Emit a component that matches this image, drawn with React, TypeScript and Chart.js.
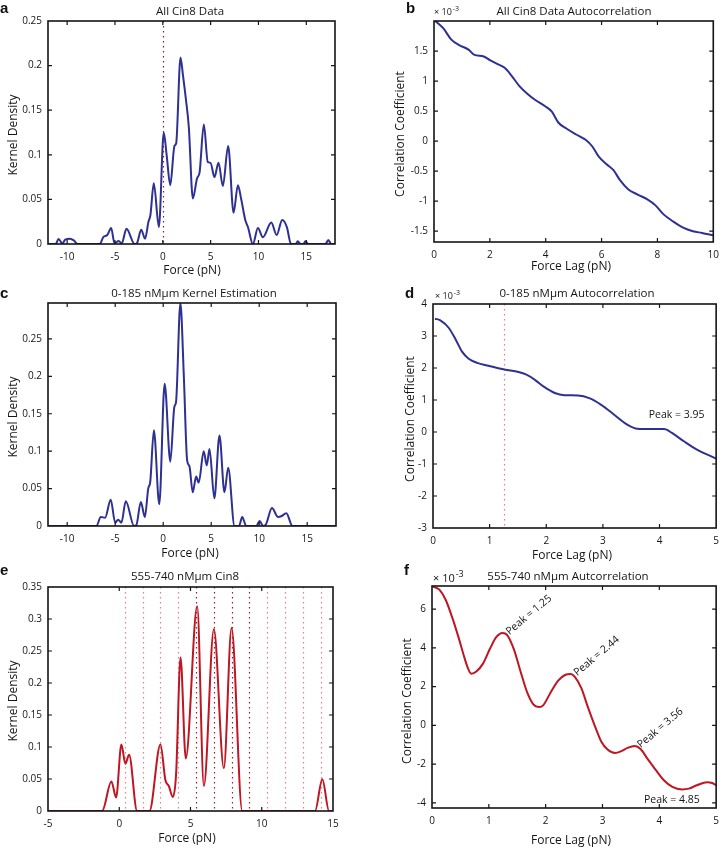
import React, { useEffect, useRef } from "react";
import { Chart, registerables } from "chart.js";
Chart.register(...registerables);

const W = 726;
const H = 848;
const FONT = "'Open Sans', 'Noto Sans', sans-serif";
const BLUE = "#2e3192";
const RED = "#be1622";
const INK = "#151515";

// ---------- Panel a: All Cin8 Data (kernel density) ----------
const aForce = [-12, -11.2, -10.9, -10.5, -10.2, -9.7, -9.3, -8.9, -6.6, -6.2, -5.8, -5.4, -5.05, -4.6, -4.3, -3.8, -2.95, -2.7, -2.26, -1.85, -1.5, -1.3, -0.94, -0.41, 0.1, 0.4, 0.78, 1.22, 1.4, 1.85, 2.1, 2.44, 2.72, 3.14, 3.59, 3.84, 4.29, 4.7, 4.99, 5.4, 5.82, 6.28, 6.83, 7.4, 7.85, 8.2, 8.62, 8.9, 9.42, 9.94, 10.46, 11.34, 11.9, 12.48, 12.97, 13.4, 13.9, 14.1, 14.4, 14.7, 14.9, 15.2, 17.0, 17.3, 17.6, 18];
const aDensity = [0, 0, 0.0055, 0.0005, 0.005, 0.006, 0.004, 0, 0, 0.008, 0.01, 0.018, 0.001, 0.0035, 0.0005, 0.017, 0, 0.001, 0.016, 0.006, 0.025, 0.032, 0.068, 0.019, 0.125, 0.1, 0.066, 0.11, 0.113, 0.209, 0.19, 0.16, 0.131, 0.051, 0.074, 0.08, 0.134, 0.092, 0.091, 0.075, 0.091, 0.065, 0.11, 0.035, 0.066, 0.05, 0.027, 0.019, 0, 0.018, 0.0075, 0.024, 0.01, 0.027, 0.019, 0, 0, 0.003, 0, 0, 0.003, 0, 0, 0.0045, 0, 0];
const aXTicks = [-10, -5, 0, 5, 10, 15];
const aYTicks = [0, 0.05, 0.1, 0.15, 0.2, 0.25];

// ---------- Panel b: All Cin8 Data Autocorrelation (x10^-3) ----------
const bLag = [0, 0.33, 0.62, 0.9, 1.25, 1.43, 1.78, 2.0, 2.24, 2.53, 2.76, 3.05, 3.34, 3.64, 3.98, 4.22, 4.45, 4.74, 5.09, 5.44, 5.67, 5.9, 6.19, 6.42, 6.66, 6.95, 7.29, 7.64, 7.93, 8.22, 8.57, 8.92, 9.27, 9.6, 10];
const bCorr = [2.02, 1.88, 1.69, 1.6, 1.52, 1.44, 1.41, 1.35, 1.29, 1.22, 1.1, 0.92, 0.79, 0.68, 0.58, 0.49, 0.31, 0.21, 0.11, 0.017, -0.09, -0.26, -0.39, -0.48, -0.65, -0.8, -0.89, -0.97, -1.07, -1.22, -1.34, -1.44, -1.5, -1.53, -1.57];
const bXTicks = [0, 2, 4, 6, 8, 10];
const bYTicks = [-1.5, -1, -0.5, 0, 0.5, 1, 1.5];

// ---------- Panel c: 0-185 nMµm Kernel Estimation ----------
const cForce = [-12, -6.96, -6.5, -6.05, -5.47, -5.0, -4.7, -4.35, -3.9, -3.03, -2.8, -2.33, -1.91, -1.56, -1.35, -0.97, -0.41, 0.15, 0.74, 1.16, 1.34, 1.79, 2.15, 2.49, 2.73, 3.08, 3.43, 3.7, 4.22, 4.54, 4.82, 5.33, 5.86, 6.38, 6.77, 7.43, 7.9, 8.23, 8.65, 9.7, 10.05, 10.4, 10.7, 11.33, 11.96, 12.3, 12.83, 13.46, 18];
const cDensity = [0, 0, 0.012, 0.011, 0.035, 0.0045, 0.0085, 0.0045, 0.033, 0, 0.001, 0.032, 0.012, 0.05, 0.059, 0.128, 0.029, 0.19, 0.086, 0.159, 0.166, 0.298, 0.2, 0.088, 0.08, 0.045, 0.066, 0.058, 0.1, 0.081, 0.103, 0.037, 0.121, 0.045, 0.078, 0, 0, 0.012, 0, 0, 0.0067, 0, 0.002, 0.024, 0.012, 0.013, 0.017, 0, 0];
const cXTicks = [-10, -5, 0, 5, 10, 15];
const cYTicks = [0, 0.05, 0.1, 0.15, 0.2, 0.25];

// ---------- Panel d: 0-185 nMµm Autocorrelation (x10^-3) ----------
const dLag = [0.035, 0.13, 0.28, 0.4, 0.51, 0.63, 0.78, 0.98, 1.26, 1.51, 1.65, 1.8, 1.97, 2.15, 2.32, 2.56, 2.76, 2.97, 3.2, 3.43, 3.61, 3.84, 4.08, 4.22, 4.43, 4.66, 5.0];
const dCorr = [3.54, 3.49, 3.25, 2.89, 2.52, 2.29, 2.16, 2.07, 1.95, 1.875, 1.79, 1.63, 1.4, 1.22, 1.15, 1.14, 1.06, 0.85, 0.54, 0.23, 0.1, 0.09, 0.09, -0.03, -0.29, -0.55, -0.83];
const dXTicks = [0, 1, 2, 3, 4, 5];
const dYTicks = [-3, -2, -1, 0, 1, 2, 3, 4];
const dMarker = [1.25];

// ---------- Panel e: 555-740 nMµm Cin8 ----------
const eForce = [-5, -1.2, -0.55, -0.22, 0.15, 0.43, 0.69, 1.25, 2.12, 2.89, 3.24, 3.48, 3.76, 3.99, 4.3, 4.67, 5.47, 5.94, 6.64, 7.34, 7.88, 8.63, 13.74, 14.25, 14.72, 15];
const eDensity = [0, 0, 0.046, 0.021, 0.104, 0.074, 0.088, 0, 0, 0.104, 0.048, 0.039, 0.022, 0.058, 0.24, 0.082, 0.32, 0.039, 0.284, 0.067, 0.286, 0, 0, 0.0495, 0, 0];
const eXTicks = [-5, 0, 5, 10, 15];
const eYTicks = [0, 0.05, 0.1, 0.15, 0.2, 0.25, 0.3, 0.35];
const eMarkersLight = [0.39, 1.64, 2.89, 4.14, 10.39, 11.64, 12.89, 14.14];
const eMarkersDark = [5.39, 6.64, 7.89, 9.14];

// ---------- Panel f: 555-740 nMµm Autcorrelation (x10^-3) ----------
const fLag = [0.01, 0.13, 0.24, 0.36, 0.48, 0.55, 0.62, 0.69, 0.78, 0.9, 1.02, 1.13, 1.24, 1.32, 1.44, 1.55, 1.67, 1.78, 1.89, 1.96, 2.08, 2.22, 2.34, 2.44, 2.51, 2.63, 2.74, 2.86, 2.98, 3.09, 3.22, 3.33, 3.44, 3.57, 3.67, 3.79, 3.94, 4.08, 4.23, 4.4, 4.52, 4.66, 4.84, 4.93, 5.0];
const fCorr = [7.17, 7.0, 6.48, 5.53, 4.41, 3.7, 3.05, 2.67, 2.78, 3.2, 3.95, 4.55, 4.77, 4.67, 3.93, 2.86, 1.74, 1.1, 0.95, 1.05, 1.66, 2.31, 2.6, 2.65, 2.52, 1.91, 0.97, 0.02, -0.84, -1.24, -1.42, -1.33, -1.16, -1.06, -1.22, -1.71, -2.31, -2.83, -3.17, -3.3, -3.26, -3.09, -2.93, -2.97, -3.09];
const fXTicks = [0, 1, 2, 3, 4, 5];
const fYTicks = [-4, -2, 0, 2, 4, 6];
const fPeakLags = [1.25, 2.44, 3.56];
const fPeakCorr = [4.77, 2.65, -1.06];
const fPeakLabels = ["Peak = 1.25", "Peak = 2.44", "Peak = 3.56"];

type VLine = { x: number; color: string };
type Note = { x: number; y: number; text: string; rot: number };
type PanelCfg = {
  key: string;
  box: [number, number, number, number]; // L T R B
  xs: number[];
  ys: number[];
  color: string;
  xMin: number; xMax: number; yMin: number; yMax: number;
  xTicks: number[]; yTicks: number[];
  yAxisW: number;
  title: string; titlePos: [number, number];
  letter: string; letterPos: [number, number];
  xLabel: string; xLabelPos: [number, number];
  yLabel: string; yLabelPos: [number, number];
  exp?: [number, number, number];
  vlines: VLine[];
  notes: Note[];
};

const panels: PanelCfg[] = [
  {
    key: "a", box: [48, 21, 335, 244], xs: aForce, ys: aDensity, color: BLUE,
    xMin: -12, xMax: 18, yMin: 0, yMax: 0.25, xTicks: aXTicks, yTicks: aYTicks, yAxisW: 40,
    title: "All Cin8 Data", titlePos: [190, 12], letter: "a", letterPos: [0, 13],
    xLabel: "Force (pN)", xLabelPos: [192, 271], yLabel: "Kernel Density", yLabelPos: [14, 135],
    vlines: [{ x: 0, color: "#8e1b1b" }], notes: [],
  },
  {
    key: "b", box: [434, 21, 721, 242], xs: bLag, ys: bCorr, color: BLUE,
    xMin: 0, xMax: 10, yMin: -1.68, yMax: 2.0, xTicks: bXTicks, yTicks: bYTicks, yAxisW: 40,
    title: "All Cin8 Data Autocorrelation", titlePos: [574, 12], letter: "b", letterPos: [406, 13],
    xLabel: "Force Lag (pN)", xLabelPos: [571, 267], yLabel: "Correlation Coefficient", yLabelPos: [401, 134],
    exp: [434, 15, 9], vlines: [], notes: [],
  },
  {
    key: "c", box: [48, 303, 336, 526], xs: cForce, ys: cDensity, color: BLUE,
    xMin: -12, xMax: 18, yMin: 0, yMax: 0.298, xTicks: cXTicks, yTicks: cYTicks, yAxisW: 40,
    title: "0-185 nMµm Kernel Estimation", titlePos: [194, 294], letter: "c", letterPos: [0, 298],
    xLabel: "Force (pN)", xLabelPos: [190, 554], yLabel: "Kernel Density", yLabelPos: [14, 417],
    vlines: [], notes: [],
  },
  {
    key: "d", box: [433, 304, 719, 528], xs: dLag, ys: dCorr, color: BLUE,
    xMin: 0, xMax: 5, yMin: -3, yMax: 4, xTicks: dXTicks, yTicks: dYTicks, yAxisW: 40,
    title: "0-185 nMµm Autocorrelation", titlePos: [577, 294], letter: "d", letterPos: [405, 298],
    xLabel: "Force Lag (pN)", xLabelPos: [572, 556], yLabel: "Correlation Coefficient", yLabelPos: [411, 419],
    exp: [435, 299, 9],
    vlines: dMarker.map((x) => ({ x, color: "#ee7a7a" })),
    notes: [{ x: 3.81, y: 0.53, text: "Peak = 3.95", rot: 0 }],
  },
  {
    key: "e", box: [48, 587, 333, 811], xs: eForce, ys: eDensity, color: RED,
    xMin: -5, xMax: 15, yMin: 0, yMax: 0.35, xTicks: eXTicks, yTicks: eYTicks, yAxisW: 40,
    title: "555-740 nMµm Cin8", titlePos: [185, 577], letter: "e", letterPos: [0, 575],
    xLabel: "Force (pN)", xLabelPos: [187, 839], yLabel: "Kernel Density", yLabelPos: [14, 701],
    vlines: [
      ...eMarkersLight.map((x) => ({ x, color: "#ec7f84" })),
      ...eMarkersDark.map((x) => ({ x, color: "#a11d27" })),
    ],
    notes: [],
  },
  {
    key: "f", box: [432, 586, 719, 808], xs: fLag, ys: fCorr, color: RED,
    xMin: 0, xMax: 5, yMin: -4.26, yMax: 7.19, xTicks: fXTicks, yTicks: fYTicks, yAxisW: 40,
    title: "555-740 nMµm Autcorrelation", titlePos: [568, 577], letter: "f", letterPos: [404, 575],
    xLabel: "Force Lag (pN)", xLabelPos: [571, 841], yLabel: "Correlation Coefficient", yLabelPos: [408, 701],
    exp: [433, 582, 11],
    vlines: [],
    notes: [
      ...fPeakLags.map((x, i) => ({ x: x + 0.08, y: fPeakCorr[i], text: fPeakLabels[i], rot: -40 })),
      { x: 3.73, y: -3.84, text: "Peak = 4.85", rot: 0 },
    ],
  },
];

function fmt(v: number): string {
  return String(Math.round(v * 1000) / 1000);
}

function makeDecor(p: PanelCfg) {
  return {
    id: "decor_" + p.key,
    beforeDatasetsDraw(chart: any) {
      const ctx = chart.ctx as CanvasRenderingContext2D;
      const a = chart.chartArea;
      const xs = chart.scales.x;
      ctx.save();
      ctx.lineWidth = 1.2;
      ctx.setLineDash([1.5, 3.5]);
      for (const v of p.vlines) {
        const px = Math.round(xs.getPixelForValue(v.x)) + 0.5;
        ctx.strokeStyle = v.color;
        ctx.beginPath();
        ctx.moveTo(px, a.top);
        ctx.lineTo(px, a.bottom);
        ctx.stroke();
      }
      ctx.restore();
    },
    afterDraw(chart: any) {
      const ctx = chart.ctx as CanvasRenderingContext2D;
      const a = chart.chartArea;
      const xs = chart.scales.x;
      const ys = chart.scales.y;
      ctx.save();
      // inward tick marks
      ctx.strokeStyle = INK;
      ctx.lineWidth = 1.2;
      const TL = 4;
      ctx.beginPath();
      for (const v of p.xTicks) {
        const px = xs.getPixelForValue(v);
        if (px <= a.left + 1 || px >= a.right - 1) continue;
        ctx.moveTo(px, a.bottom); ctx.lineTo(px, a.bottom - TL);
        ctx.moveTo(px, a.top); ctx.lineTo(px, a.top + TL);
      }
      for (const v of p.yTicks) {
        const py = ys.getPixelForValue(v);
        if (py <= a.top + 1 || py >= a.bottom - 1) continue;
        ctx.moveTo(a.left, py); ctx.lineTo(a.left + TL, py);
        ctx.moveTo(a.right, py); ctx.lineTo(a.right - TL, py);
      }
      ctx.stroke();
      // frame
      ctx.lineWidth = 1.6;
      ctx.strokeRect(a.left, a.top, a.right - a.left, a.bottom - a.top);

      ctx.fillStyle = INK;
      // title
      ctx.font = `11.5px ${FONT}`;
      ctx.textAlign = "center";
      ctx.textBaseline = "middle";
      ctx.fillText(p.title, p.titlePos[0], p.titlePos[1]);
      // x label
      ctx.font = `12px ${FONT}`;
      ctx.fillText(p.xLabel, p.xLabelPos[0], p.xLabelPos[1]);
      // y label
      ctx.save();
      ctx.translate(p.yLabelPos[0], p.yLabelPos[1]);
      ctx.rotate(-Math.PI / 2);
      ctx.fillText(p.yLabel, 0, 0);
      ctx.restore();
      // panel letter
      ctx.font = `bold 15px 'Liberation Sans', Arial, sans-serif`;
      ctx.textAlign = "left";
      ctx.textBaseline = "alphabetic";
      ctx.fillStyle = "#111";
      ctx.fillText(p.letter, p.letterPos[0], p.letterPos[1]);
      ctx.fillStyle = INK;
      // exponent label
      if (p.exp) {
        const [ex, ey, es] = p.exp;
        ctx.font = `${es}px ${FONT}`;
        ctx.textBaseline = "alphabetic";
        const base = "\u00d7 10";
        ctx.fillText(base, ex, ey);
        const w = ctx.measureText(base).width;
        ctx.font = `${Math.round(es * 0.8)}px ${FONT}`;
        ctx.fillText("-3", ex + w + 1, ey - es * 0.45);
      }
      // notes
      ctx.font = `10.5px ${FONT}`;
      ctx.textBaseline = "middle";
      ctx.textAlign = "left";
      for (const n of p.notes) {
        const px = xs.getPixelForValue(n.x);
        const py = ys.getPixelForValue(n.y);
        ctx.save();
        ctx.translate(px, py);
        ctx.rotate((n.rot * Math.PI) / 180);
        ctx.fillText(n.text, 0, 0);
        ctx.restore();
      }
      ctx.restore();
    },
  };
}

function PanelChart({ p }: { p: PanelCfg }) {
  const ref = useRef<HTMLCanvasElement | null>(null);
  useEffect(() => {
    if (!ref.current) return;
    const [L, T, R, B] = p.box;
    const XH = 20;
    const pts = p.xs.map((x, i) => ({ x, y: p.ys[i] }));
    const tickFont = { family: FONT, size: 10 };
    const chart = new Chart(ref.current, {
      type: "line",
      data: {
        datasets: [
          {
            data: pts,
            borderColor: p.color,
            borderWidth: 2,
            pointRadius: 0,
            fill: false,
            cubicInterpolationMode: "monotone",
          } as any,
        ],
      },
      options: {
        animation: false,
        responsive: false,
        maintainAspectRatio: false,
        devicePixelRatio: 1,
        events: [],
        layout: { padding: { left: L - p.yAxisW, top: T, right: W - R, bottom: H - B - XH } },
        plugins: { legend: { display: false }, tooltip: { enabled: false }, title: { display: false } },
        scales: {
          x: {
            type: "linear",
            min: p.xMin,
            max: p.xMax,
            grid: { display: false, drawTicks: false },
            border: { display: false },
            ticks: { font: tickFont, color: INK, padding: 7, maxRotation: 0, autoSkip: false, callback: (v: any) => fmt(Number(v)) },
            afterBuildTicks: (s: any) => { s.ticks = p.xTicks.map((v) => ({ value: v })); },
            afterFit: (s: any) => { s.height = XH; },
          },
          y: {
            type: "linear",
            min: p.yMin,
            max: p.yMax,
            grid: { display: false, drawTicks: false },
            border: { display: false },
            ticks: { font: tickFont, color: INK, padding: 6, autoSkip: false, callback: (v: any) => fmt(Number(v)) },
            afterBuildTicks: (s: any) => { s.ticks = p.yTicks.map((v) => ({ value: v })); },
            afterFit: (s: any) => { s.width = p.yAxisW; },
          },
        },
      } as any,
      plugins: [makeDecor(p)],
    });
    return () => chart.destroy();
  }, [p]);
  return (
    <canvas
      ref={ref}
      width={W}
      height={H}
      style={{ position: "absolute", left: 0, top: 0, width: W, height: H }}
    />
  );
}

export default function App() {
  return (
    <div style={{ position: "absolute", left: 0, top: 0, width: W, height: H, background: "#fff", overflow: "hidden" }}>
      {panels.map((p) => (
        <PanelChart key={p.key} p={p} />
      ))}
    </div>
  );
}
